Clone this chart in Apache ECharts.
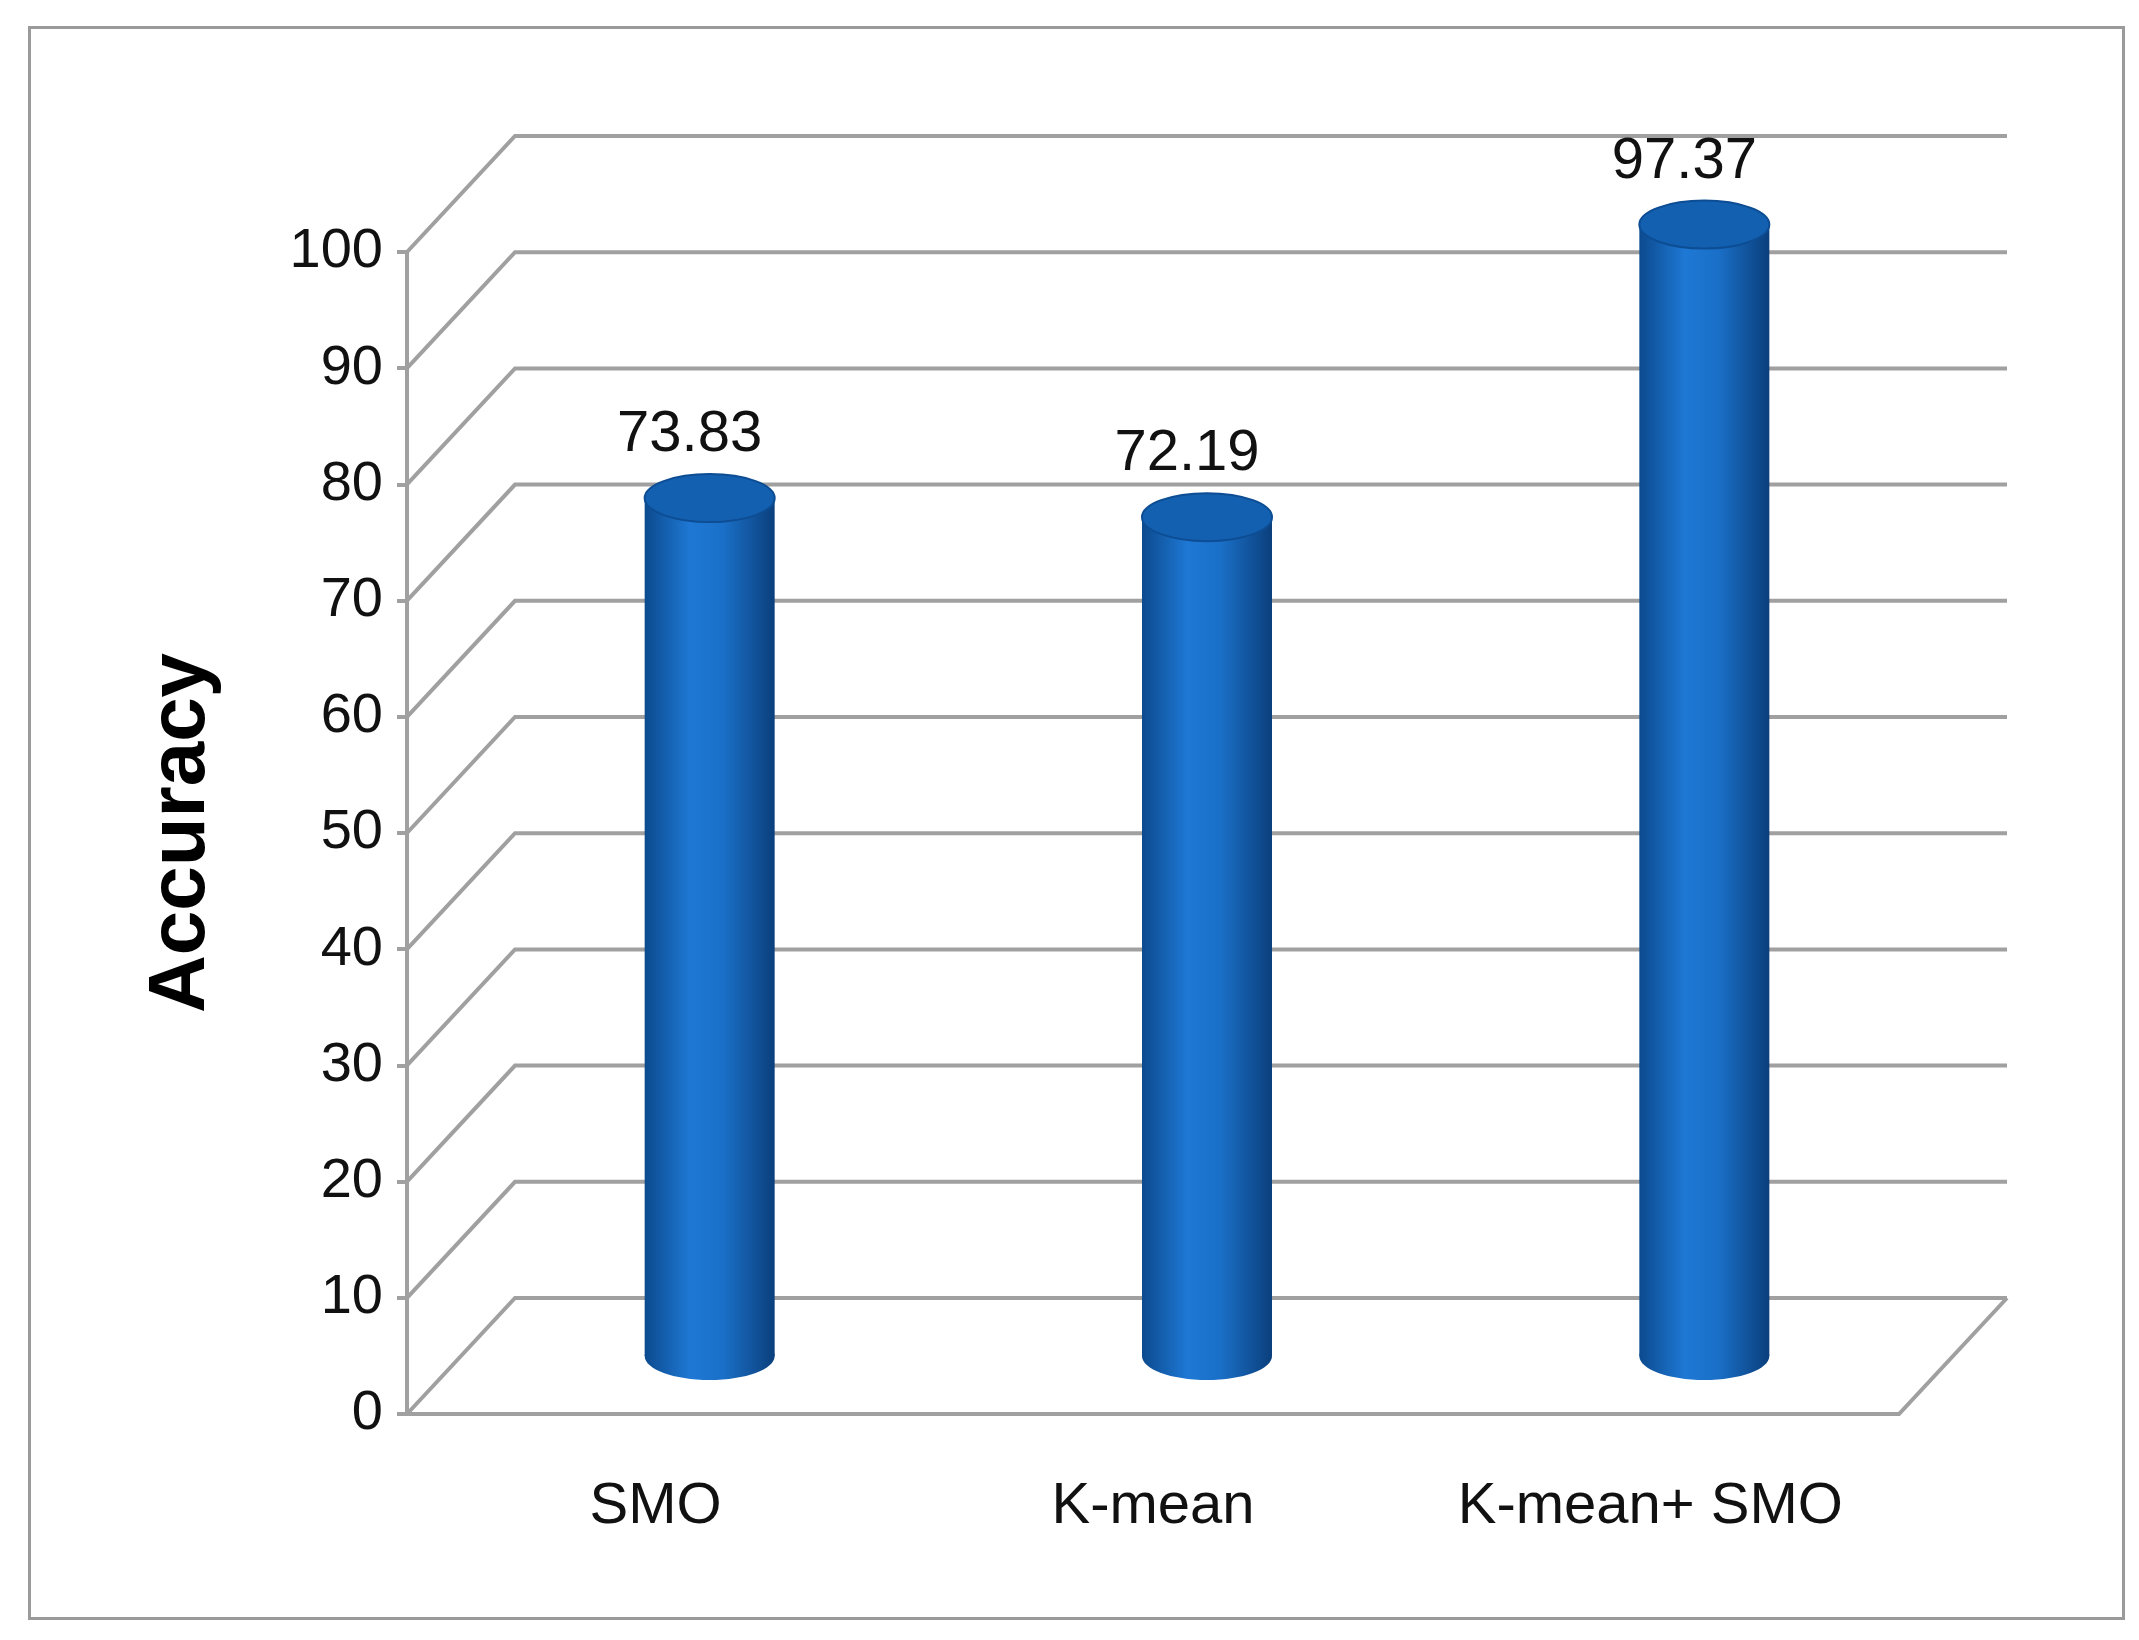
<!DOCTYPE html>
<html>
<head>
<meta charset="utf-8">
<script src="https://cdn.jsdelivr.net/npm/echarts@6/dist/echarts.min.js"></script>
<style>html,body{margin:0;padding:0;background:#fff}#main{width:2139px;height:1640px}</style>
</head>
<body>
<div id="main"></div>
<script>
var categories = ['SMO', 'K-mean', 'K-mean+ SMO'];
var accuracy = [73.83, 72.19, 97.37];
var yTicks = [0, 10, 20, 30, 40, 50, 60, 70, 80, 90, 100];

var depthX = 108, depthY = -116;
var lineColor = '#a0a0a0';
var narrow = '"Liberation Sans Narrow", "Liberation Sans", Arial, sans-serif';

var chart = echarts.init(document.getElementById('main'));

function renderWall(params, api) {
	var cs = params.coordSys;
	var v = api.value(0);
	var y = api.coord([0, v])[1];
	var x0 = cs.x, x1 = cs.x + cs.width;
	var style = { stroke: lineColor, lineWidth: 4, fill: null };
	var kids = [
		{ type: 'polyline', shape: { points: [[x0, y], [x0 + depthX, y + depthY], [x1 + depthX, y + depthY]] }, style: style }
	];
	if (v === 0) {
		kids.push({ type: 'polyline', shape: { points: [[x0, y], [x1, y], [x1 + depthX, y + depthY]] }, style: style });
	}
	return { type: 'group', children: kids };
}

function renderBar(params, api) {
	var i = api.value(0), v = api.value(1);
	var top = api.coord([i, v]);
	var bot = api.coord([i, 0]);
	var ox = depthX / 2, oy = depthY / 2;
	var cx = top[0] + ox, ty = top[1] + oy, by = bot[1] + oy;
	var w = 130, ry = 24;
	var grad = new echarts.graphic.LinearGradient(0, 0, 1, 0, [
		{ offset: 0, color: '#0c4a8e' },
		{ offset: 0.35, color: '#1e78d4' },
		{ offset: 0.6, color: '#1a70c8' },
		{ offset: 1, color: '#0b3f7c' }
	]);
	return {
		type: 'group',
		children: [
			{ type: 'ellipse', shape: { cx: cx, cy: by, rx: w / 2, ry: ry }, style: { fill: grad } },
			{ type: 'rect', shape: { x: cx - w / 2, y: ty, width: w, height: by - ty }, style: { fill: grad } },
			{ type: 'ellipse', shape: { cx: cx, cy: ty, rx: w / 2, ry: ry }, style: { fill: '#1460b0', stroke: '#0d4d94', lineWidth: 2 } },
			{ type: 'text', style: { text: String(v.toFixed(2)), x: cx - 20, y: ty - 34, align: 'center', verticalAlign: 'bottom', fill: '#111', font: '58px ' + narrow } }
		]
	};
}

chart.setOption({
	animation: false,
	backgroundColor: '#fff',
	graphic: [{
		type: 'rect', left: 27, top: 25, shape: { width: 2094, height: 1591 },
		style: { fill: 'none', stroke: '#9a9a9a', lineWidth: 3 }
	}],
	grid: { left: 407, right: 240, top: 252, bottom: 226 },
	xAxis: {
		type: 'category',
		data: categories,
		axisLine: { show: false },
		axisTick: { show: false },
		axisLabel: { interval: 0, margin: 64, color: '#111', fontSize: 58, fontFamily: narrow }
	},
	yAxis: {
		type: 'value',
		min: 0, max: 100, interval: 10,
		name: 'Accuracy',
		nameLocation: 'middle',
		nameGap: 185,
		nameRotate: 90,
		nameTextStyle: { fontSize: 80, fontWeight: 'bold', color: '#000', fontFamily: 'Liberation Sans, Arial, sans-serif' },
		axisLine: { show: true, lineStyle: { color: lineColor, width: 4 } },
		axisTick: { show: true, length: 10, lineStyle: { color: lineColor, width: 4 } },
		splitLine: { show: false },
		axisLabel: { margin: 24, color: '#111', fontSize: 56, fontFamily: narrow }
	},
	series: [
		{ type: 'custom', renderItem: renderWall, data: yTicks.map(function(t) { return [t]; }), encode: { y: 0 }, z: 1, silent: true },
		{ type: 'custom', renderItem: renderBar, data: accuracy.map(function(v, i) { return [i, v]; }), encode: { x: 0, y: 1 }, z: 2 }
	]
});
</script>
</body>
</html>
